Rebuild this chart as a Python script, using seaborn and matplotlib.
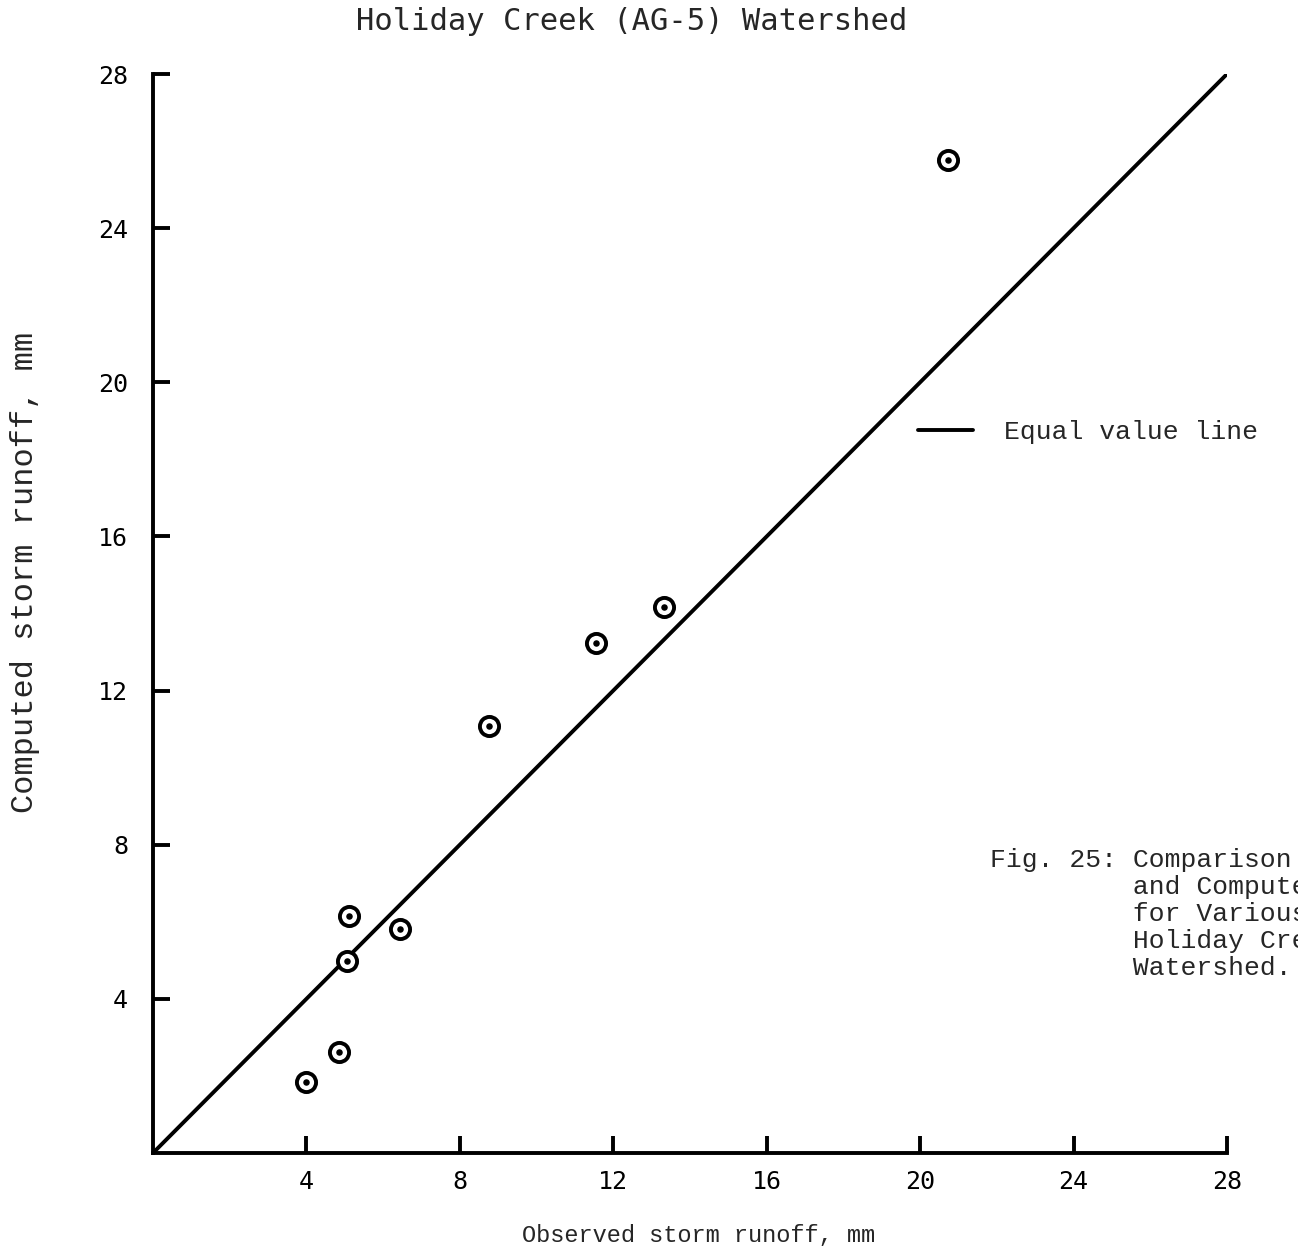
import numpy as np
import matplotlib
matplotlib.use("Agg")
import matplotlib.pyplot as plt
import seaborn as sns
import pandas as pd

# values
observed = [3.99, 4.85, 5.06, 5.11, 6.44, 8.76, 11.55, 13.32, 20.72]
computed = [1.84, 2.62, 4.98, 6.15, 5.81, 11.08, 13.23, 14.17, 25.77]
equal_line = [0, 28]
ticks = [4, 8, 12, 16, 20, 24, 28]

df = pd.DataFrame({"observed": observed, "computed": computed})

sns.set_style("white")
plt.rcParams["font.family"] = ["Liberation Mono", "DejaVu Sans Mono"]

fig = plt.figure(figsize=(12.98, 12.58), dpi=100)
ax = fig.add_axes([153 / 1298, 105 / 1258, 1074 / 1298, 1079 / 1258])

sns.lineplot(x=equal_line, y=equal_line, ax=ax, color="black", lw=2.8,
             label="Equal value line")
sns.scatterplot(data=df, x="observed", y="computed", ax=ax, s=190,
                facecolor="white", edgecolor="black", linewidth=2.8, zorder=3)
sns.scatterplot(data=df, x="observed", y="computed", ax=ax, s=22,
                color="black", linewidth=0, zorder=4)

ax.set_xlim(0, 28)
ax.set_ylim(0, 28)
ax.set_xticks(ticks)
ax.set_yticks(ticks)
ax.tick_params(bottom=True, left=True, direction="in", length=12, width=2.8,
               labelsize=18, color="black", labelcolor="black")
ax.tick_params(axis="x", pad=12)
ax.tick_params(axis="y", pad=18)
for lab in ax.get_xticklabels() + ax.get_yticklabels():
    lab.set_fontfamily("DejaVu Sans Mono")
sns.despine(ax=ax)
for side in ["left", "bottom"]:
    ax.spines[side].set_linewidth(2.8)
    ax.spines[side].set_color("black")

ax.set_xlabel("")
ax.set_ylabel("")
fig.text(699 / 1298, 1 - 1236 / 1258, "Observed storm runoff, mm",
         ha="center", va="center", fontsize=17)
fig.text(25 / 1298, 1 - 572 / 1258, "Computed storm runoff, mm",
         ha="center", va="center", rotation=90, fontsize=23)
fig.text(632 / 1298, 1 - 22 / 1258, "Holiday Creek (AG-5) Watershed",
         ha="center", va="center", fontsize=22, family="DejaVu Sans Mono")

leg = ax.legend(loc="center left", bbox_to_anchor=(918 / 1298, 1 - 432 / 1258),
                bbox_transform=fig.transFigure, frameon=False, fontsize=19,
                handlelength=2.1, handletextpad=1.15, borderpad=0,
                borderaxespad=0)

# caption runs off the right edge in the scan, kept the same way
caption = ["Fig. 25: Comparison of Observed",
           "         and Computed Runoff",
           "         for Various Storms on",
           "         Holiday Creek (AG-5)",
           "         Watershed."]
for i, line in enumerate(caption):
    fig.text(990 / 1298, 1 - (860 + 27 * i) / 1258, line, ha="left",
             va="center", fontsize=19)

fig.savefig("out.png", dpi=100)
